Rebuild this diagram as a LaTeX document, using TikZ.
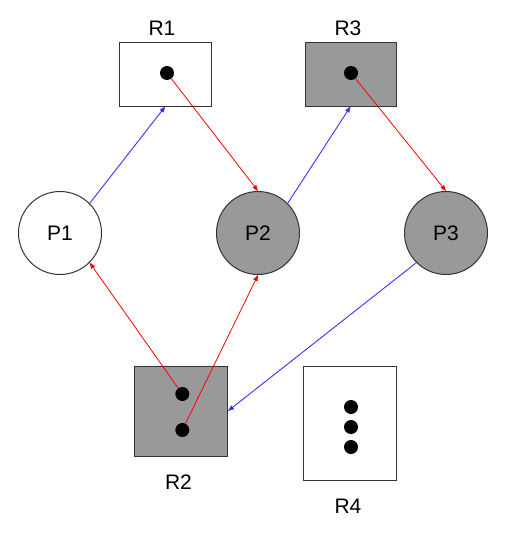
\documentclass[tikz,border=0pt]{standalone}
\usepackage{fontspec}
\setmainfont{Liberation Sans}
\usetikzlibrary{arrows.meta}
\definecolor{edge}{HTML}{333333}
\definecolor{shade}{HTML}{999999}
\definecolor{req}{HTML}{3333FF}
\definecolor{hold}{HTML}{FF0000}
\begin{document}
\begin{tikzpicture}[x=1pt,y=-1pt,
  every node/.style={font=\fontsize{21}{25}\selectfont},
  proc/.style={circle,draw=edge,line width=1pt,minimum size=83pt,inner sep=0pt},
  res/.style={rectangle,draw=edge,line width=1pt,inner sep=0pt},
  inst/.style={circle,fill=black,minimum size=14pt,inner sep=0pt},
  lbl/.style={inner sep=0pt},
  reqarrow/.style={draw=req,line width=0.9pt,-{Triangle[length=6pt,width=4.5pt]}},
  holdarrow/.style={draw=hold,line width=0.8pt,-{Triangle[length=6pt,width=4.5pt]}}]
\useasboundingbox (0,0) rectangle (513,533);
% resources
\node[res,fill=white,minimum width=91.5pt,minimum height=64pt] (R1) at (165.25,74) {};
\node[res,fill=shade,minimum width=91pt,minimum height=64pt] (R3) at (350.5,74) {};
\node[res,fill=shade,minimum width=93pt,minimum height=90pt] (R2) at (181,411) {};
\node[res,fill=white,minimum width=93pt,minimum height=114pt] (R4) at (350,423) {};
% labels
\node[lbl] (lR1) at (162,28.5) {R1};
\node[lbl] (lR3) at (348,28.5) {R3};
\node[lbl] (lR2) at (178.5,482.5) {R2};
\node[lbl] (lR4) at (348,506.5) {R4};
% instances
\node[inst] (d1) at (167,73) {};
\node[inst] (d3) at (351,73) {};
\node[inst] (d2a) at (182.3,394) {};
\node[inst] (d2b) at (182.3,430) {};
\node[inst] (d4a) at (351,407) {};
\node[inst] (d4b) at (351,427) {};
\node[inst] (d4c) at (351,447) {};
% processes
\node[proc,fill=white] (P1) at (60,233) {P1};
\node[proc,fill=shade] (P2) at (258,233) {P2};
\node[proc,fill=shade] (P3) at (446,233) {P3};
% edges
\draw[reqarrow] (P1.45) -- (R1.south);
\draw[holdarrow] (d1) -- (P2.north);
\draw[reqarrow] (P2.45) -- (R3.south);
\draw[holdarrow] (d3) -- (P3.north);
\draw[holdarrow] (d2a) -- (P1.-45);
\draw[holdarrow] (d2b) -- (P2.south);
\draw[reqarrow] (P3.225) -- (R2.east);
\end{tikzpicture}
\end{document}
